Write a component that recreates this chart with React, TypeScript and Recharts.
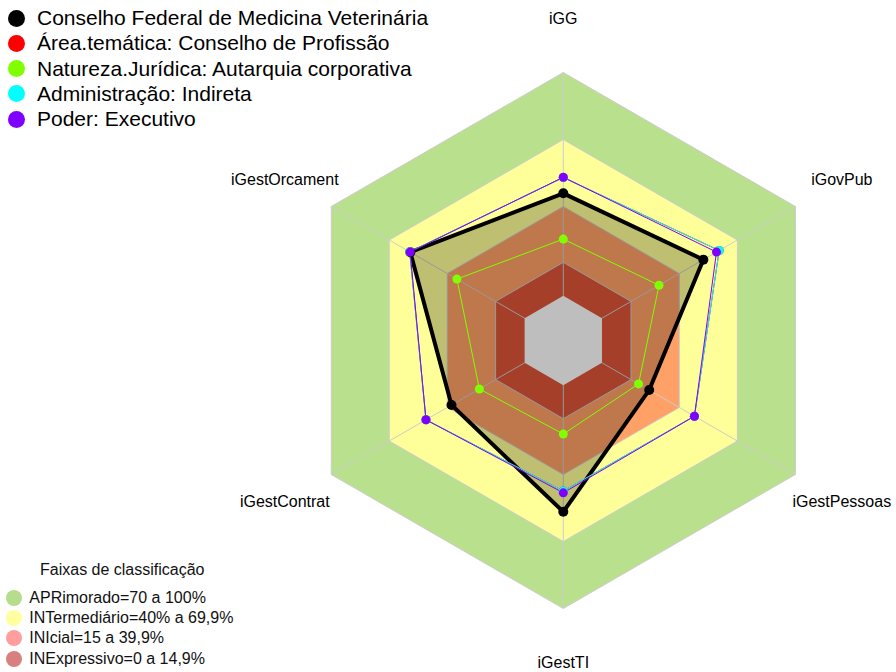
import React from 'react';
import { RadarChart, Radar, PolarAngleAxis, PolarRadiusAxis } from 'recharts';

const AXES = ['iGG', 'iGovPub', 'iGestPessoas', 'iGestTI', 'iGestContrat', 'iGestOrcament'];

// series values, in AXES order
const conselho = [45.9, 52.4, 24.4, 56.7, 37.8, 59.1];
const areaTematica = [53.0, 60.6, 47.8, 47.4, 51.0, 59.4];
const natureza = [25.4, 29.5, 18.9, 21.9, 23.4, 35.0];
const administracao = [53.0, 60.6, 47.8, 47.4, 51.0, 59.4];
const poder = [53.1, 59.2, 47.8, 48.2, 51.0, 59.2];

const SERIES = [
  { key: 'conselho', name: 'Conselho Federal de Medicina Veterinária', color: '#000000', values: conselho },
  { key: 'area', name: 'Área.temática: Conselho de Profissão', color: '#FF0000', values: areaTematica },
  { key: 'natureza', name: 'Natureza.Jurídica: Autarquia corporativa', color: '#80FF00', values: natureza },
  { key: 'admin', name: 'Administração: Indireta', color: '#00FFFF', values: administracao },
  { key: 'poder', name: 'Poder: Executivo', color: '#8000FF', values: poder },
];

// classification bands (upper limit of each band)
const BAND_LIMITS = [100, 70, 40, 15];
const BAND_FILLS = ['#B9E08D', '#FFFF99', '#FFA066', '#DD5538'];
const BAND_LABELS = [
  'APRimorado=70 a 100%',
  'INTermediário=40% a 69,9%',
  'INIcial=15 a 39,9%',
  'INExpressivo=0 a 14,9%',
];
const BAND_LEGEND_COLORS = ['#B5DD8B', '#FFFFA0', '#FF9E9E', '#D88080'];
const RADIUS_MIN = -20;
const CENTER_LIMIT = 0;

const data = AXES.map((axis, i) => {
  const row: Record<string, any> = { axis };
  BAND_LIMITS.forEach((b) => (row['band' + b] = b));
  row.center = CENTER_LIMIT;
  SERIES.forEach((s) => (row[s.key] = s.values[i]));
  return row;
});

const FONT = '"Liberation Sans", Arial, Helvetica, sans-serif';
const GRID = '#CCCCCC';

const AxisTick = (props: any) => {
  const { x, y, cx, cy, radius, payload } = props;
  const a = Math.atan2(y - cy, x - cx);
  const r = radius * 1.2;
  return (
    <text
      x={cx + r * Math.cos(a)}
      y={cy + r * Math.sin(a)}
      textAnchor="middle"
      dominantBaseline="central"
      fontSize={16}
      fontFamily={FONT}
      fill="#000"
    >
      {payload.value}
    </text>
  );
};

// spokes drawn on top of the bands, from centre to each outer point
const Spokes = (props: any) => {
  const { points } = props;
  return (
    <g>
      {(points || []).map((p: any, i: number) => (
        <line key={i} x1={p.cx} y1={p.cy} x2={p.x} y2={p.y} stroke={GRID} strokeWidth={1} />
      ))}
    </g>
  );
};

export default function App() {
  const [black, ...others] = SERIES;
  return (
    <div style={{ position: 'absolute', left: 0, top: 0, width: 896, height: 672, background: '#fff', fontFamily: FONT }}>
      <RadarChart width={896} height={672} data={data} cx={563.3} cy={340.5} outerRadius={268} margin={{ top: 0, right: 0, bottom: 0, left: 0 }}>
        <PolarRadiusAxis domain={[RADIUS_MIN, 100]} tick={false} axisLine={false} />
        <PolarAngleAxis dataKey="axis" tick={<AxisTick />} tickLine={false} axisLine={false} />
        {BAND_LIMITS.map((b, i) => (
          <Radar
            key={b}
            dataKey={'band' + b}
            stroke={GRID}
            strokeWidth={1}
            fill={BAND_FILLS[i]}
            fillOpacity={1}
            isAnimationActive={false}
            legendType="none"
          />
        ))}
        <Radar dataKey="band100" shape={<Spokes />} isAnimationActive={false} legendType="none" />
        <Radar
          dataKey={black.key}
          stroke={black.color}
          strokeWidth={4}
          fill="#000"
          fillOpacity={0.25}
          dot={{ r: 5, fill: '#000', fillOpacity: 1, stroke: 'none' }}
          isAnimationActive={false}
        />
        <Radar dataKey="center" stroke="none" fill="#BEBEBE" fillOpacity={1} isAnimationActive={false} />
        {others.map((s) => (
          <Radar
            key={s.key}
            dataKey={s.key}
            stroke={s.color}
            strokeWidth={1}
            fill="none"
            fillOpacity={0}
            dot={{ r: 4.5, fill: s.color, fillOpacity: 1, stroke: 'none' }}
            isAnimationActive={false}
          />
        ))}
      </RadarChart>

      <div style={{ position: 'absolute', left: 8, top: 5.7 }}>
        {SERIES.map((s) => (
          <div key={s.key} style={{ display: 'flex', alignItems: 'center', height: 25.2 }}>
            <div style={{ width: 17, height: 17, borderRadius: '50%', background: s.color, marginRight: 12 }} />
            <span style={{ fontSize: 21, color: '#000', whiteSpace: 'nowrap' }}>{s.name}</span>
          </div>
        ))}
      </div>

      <div style={{ position: 'absolute', left: 6, top: 560 }}>
        <div style={{ height: 20, lineHeight: '20px', fontSize: 16, marginLeft: 34, color: '#111', whiteSpace: 'nowrap' }}>
          Faixas de classificação
        </div>
        <div style={{ height: 7.5 }} />
        {BAND_LABELS.map((label, i) => (
          <div key={label} style={{ display: 'flex', alignItems: 'center', height: 20.4 }}>
            <div style={{ width: 16, height: 16, borderRadius: '50%', background: BAND_LEGEND_COLORS[i], marginRight: 7.3 }} />
            <span style={{ fontSize: 16, color: '#111', whiteSpace: 'nowrap' }}>{label}</span>
          </div>
        ))}
      </div>
    </div>
  );
}
